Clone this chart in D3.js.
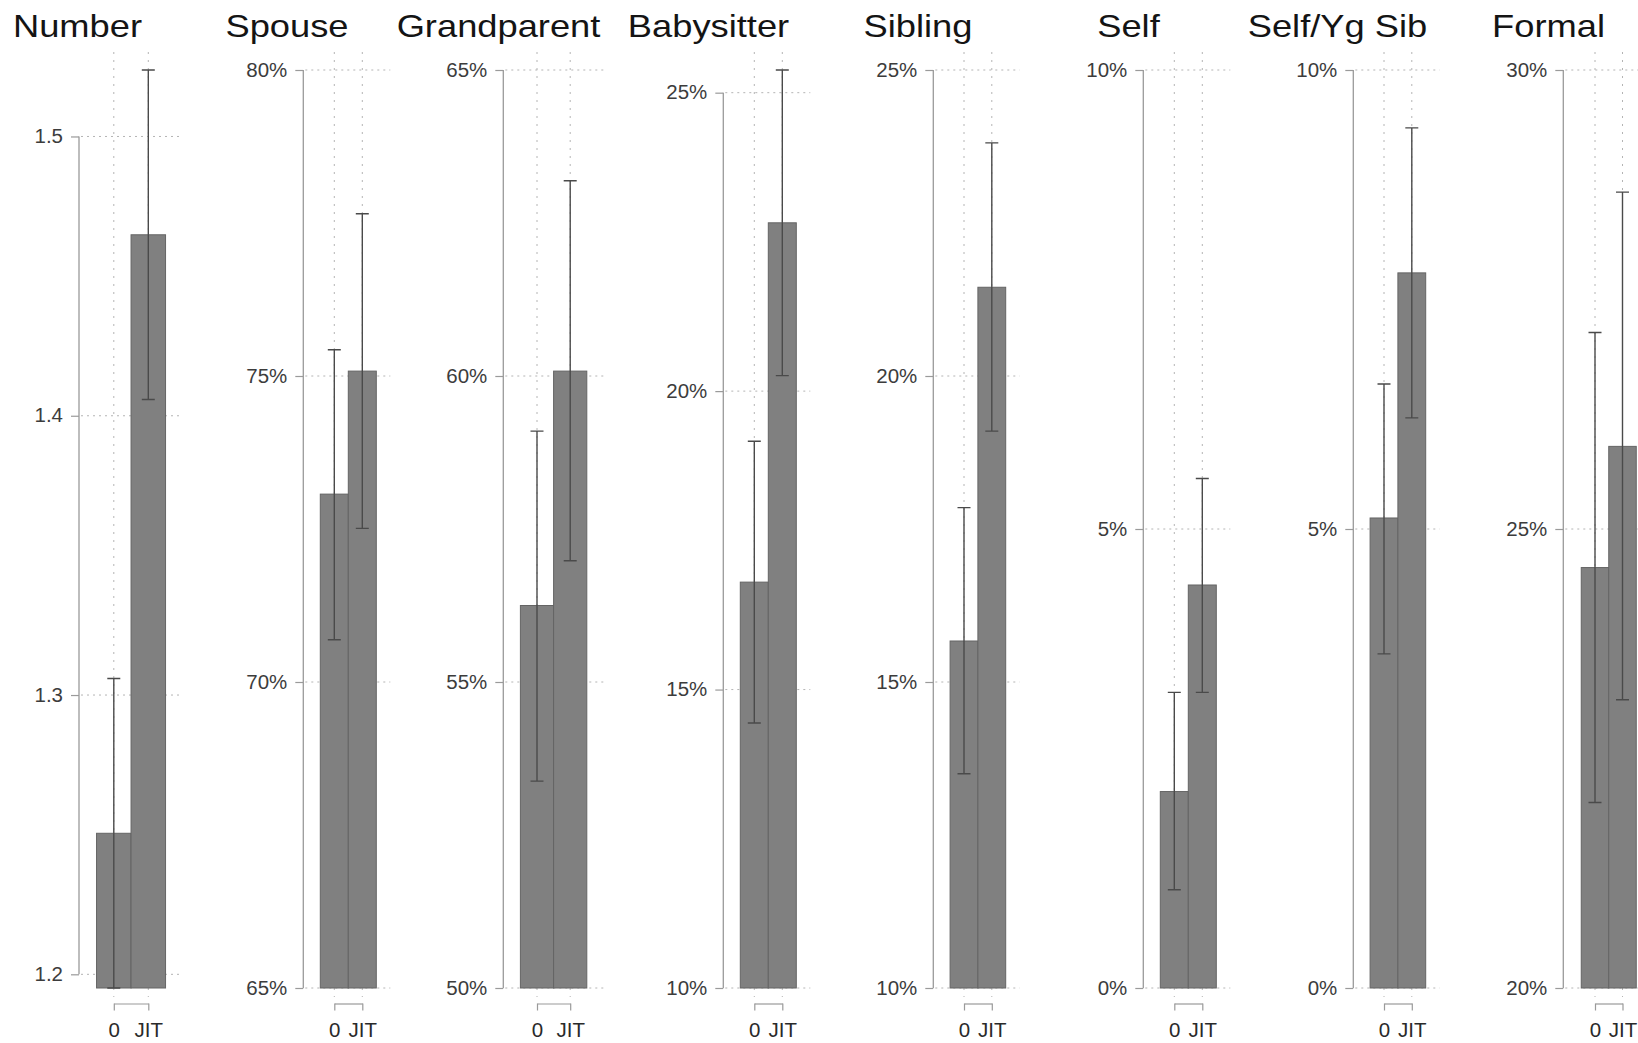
<!DOCTYPE html>
<html>
<head>
<meta charset="utf-8">
<script src="https://cdn.jsdelivr.net/npm/d3@7"></script>
<style>
  html, body { margin: 0; padding: 0; background: #fff; }
  svg { display: block; font-family: "Liberation Sans", Arial, sans-serif; }
</style>
</head>
<body>
<svg id="chart" width="1638" height="1043"></svg>
<script>
// Outcome panels and the two comparison groups
const panelTitles = ["Number", "Spouse", "Grandparent", "Babysitter", "Sibling", "Self", "Self/Yg Sib", "Formal"];
const groups = ["0", "JIT"];

// Group means (Number is a count; the others are percentages)
const meanValues = [
  [1.2505, 1.4648],
  [73.07, 75.08],
  [56.25, 60.08],
  [16.80, 22.82],
  [15.67, 21.45],
  [2.14, 4.39],
  [5.12, 7.79],
  [24.58, 25.90]
];

// Confidence interval bounds
const ciLower = [
  [1.1951, 1.4058],
  [70.69, 72.51],
  [53.38, 56.98],
  [14.44, 20.26],
  [13.50, 19.10],
  [1.07, 3.22],
  [3.64, 6.21],
  [22.02, 23.14]
];
const ciUpper = [
  [1.3059, 1.5238],
  [75.43, 77.65],
  [59.10, 63.19],
  [19.16, 25.38],
  [17.85, 23.81],
  [3.22, 5.55],
  [6.58, 9.37],
  [27.14, 28.67]
];

// Y tick values per panel
const tickValues = [
  [1.2, 1.3, 1.4, 1.5],
  [65, 70, 75, 80],
  [50, 55, 60, 65],
  [10, 15, 20, 25],
  [10, 15, 20, 25],
  [0, 5, 10],
  [0, 5, 10],
  [20, 25, 30]
];
const isPercent = [false, true, true, true, true, true, true, true];

// Panel geometry: y-axis position, first category position, category step, title centre
const panelLayout = [
  { axisX: 79,     x0: 113.8, step: 34.5, titleX: 77.5 },
  { axisX: 303.3,  x0: 334.3, step: 28,   titleX: 287 },
  { axisX: 503.3,  x0: 537,   step: 33.2, titleX: 498.5 },
  { axisX: 723.3,  x0: 754.3, step: 28,   titleX: 708.5 },
  { axisX: 933.3,  x0: 964,   step: 27.8, titleX: 918 },
  { axisX: 1143.3, x0: 1174.3, step: 28,  titleX: 1128.5 },
  { axisX: 1353.3, x0: 1384,  step: 27.8, titleX: 1337.5 },
  { axisX: 1563.3, x0: 1595,  step: 27.5, titleX: 1548.5 }
];

const plotTop = 70, plotBottom = 988;     // data extent
const gridTop = 52, gridBottom = 997;     // plot region for vertical grid
const xAxisY = 1003.5;
const titleY = 37;

const svg = d3.select("#chart");

panelTitles.forEach((title, i) => {
  const L = panelLayout[i];
  const g = svg.append("g").attr("class", "panel");

  const ticks = tickValues[i];
  const lo = Math.min(d3.min(ticks), d3.min(ciLower[i]));
  const hi = Math.max(d3.max(ticks), d3.max(ciUpper[i]));
  const y = d3.scaleLinear().domain([lo, hi]).range([plotBottom, plotTop]);

  const x = d3.scalePoint().domain(groups).range([L.x0, L.x0 + L.step]).padding(0);
  const barW = L.step;
  const plotRight = L.x0 + 2 * L.step;

  // horizontal grid at each tick
  g.append("g").selectAll("line").data(ticks).join("line")
    .attr("x1", L.axisX + 2).attr("x2", plotRight)
    .attr("y1", d => y(d)).attr("y2", d => y(d))
    .attr("stroke", "#b4b4b4").attr("stroke-width", 1)
    .attr("stroke-dasharray", "2,4");

  // vertical grid at each category
  g.append("g").selectAll("line").data(groups).join("line")
    .attr("x1", d => x(d)).attr("x2", d => x(d))
    .attr("y1", gridTop).attr("y2", gridBottom)
    .attr("stroke", "#b4b4b4").attr("stroke-width", 1)
    .attr("stroke-dasharray", "2,6");

  // bars
  const rows = groups.map((k, j) => ({ k, mean: meanValues[i][j], lo: ciLower[i][j], hi: ciUpper[i][j] }));
  g.append("g").selectAll("rect").data(rows).join("rect")
    .attr("x", d => x(d.k) - barW / 2)
    .attr("width", barW)
    .attr("y", d => y(d.mean))
    .attr("height", d => y(lo) - y(d.mean))
    .attr("fill", "#808080")
    .attr("stroke", "#646464")
    .attr("stroke-width", 1);

  // confidence intervals
  const cap = 6.5;
  const eb = g.append("g").attr("stroke", "#4a4a4a").attr("stroke-width", 1.4).attr("fill", "none");
  eb.selectAll("path").data(rows).join("path")
    .attr("d", d => {
      const cx = x(d.k);
      return `M${cx - cap},${y(d.hi)}H${cx + cap}` +
             `M${cx},${y(d.hi)}V${y(d.lo)}` +
             `M${cx - cap},${y(d.lo)}H${cx + cap}`;
    });

  // y axis
  const fmt = isPercent[i] ? (d => d + "%") : d3.format(".1f");
  const yAxis = d3.axisLeft(y).tickValues(ticks).tickFormat(fmt)
    .tickSize(8).tickSizeOuter(0).tickPadding(8);
  const ya = g.append("g").attr("transform", `translate(${L.axisX},0)`).call(yAxis);
  ya.select(".domain").remove();
  ya.append("line")
    .attr("x1", 0).attr("x2", 0)
    .attr("y1", y(d3.min(ticks))).attr("y2", y(d3.max(ticks)))
    .attr("stroke", "#9a9a9a").attr("stroke-width", 1.3);
  ya.selectAll(".tick line").attr("stroke", "#9a9a9a").attr("stroke-width", 1.2);
  ya.selectAll(".tick text")
    .attr("x", 0)
    .attr("transform", "translate(-16,0) scale(1.05,1)")
    .attr("font-size", 19.5)
    .attr("font-family", "Liberation Sans, Arial, sans-serif")
    .attr("fill", "#3c3c3c");

  // x axis
  const xAxis = d3.axisBottom(x).tickSize(7).tickSizeOuter(0).tickPadding(11.5);
  const xa = g.append("g").attr("transform", `translate(0,${xAxisY})`).call(xAxis);
  xa.select(".domain").attr("stroke", "#9a9a9a").attr("stroke-width", 1.2);
  xa.selectAll(".tick line").attr("stroke", "#9a9a9a").attr("stroke-width", 1.2);
  xa.selectAll(".tick text")
    .attr("font-size", 20.5)
    .attr("font-family", "Liberation Sans, Arial, sans-serif")
    .attr("fill", "#2a2a2a");

  // panel title
  g.append("text")
    .attr("transform", `translate(${L.titleX},${titleY}) scale(1.16,1)`)
    .attr("text-anchor", "middle")
    .attr("font-size", 31.3)
    .attr("fill", "#141414")
    .text(title);
});
</script>
</body>
</html>
